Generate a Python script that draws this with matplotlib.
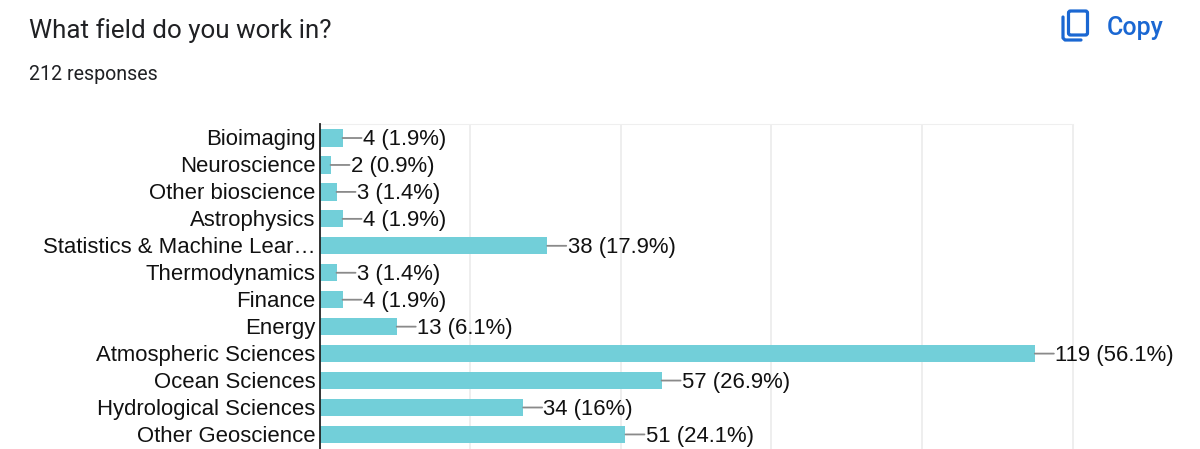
import matplotlib
matplotlib.use("Agg")
import matplotlib.pyplot as plt
from matplotlib.patches import FancyBboxPatch
from matplotlib.transforms import ScaledTranslation

categories = ["Bioimaging", "Neuroscience", "Other bioscience", "Astrophysics",
              "Statistics & Machine Lear…", "Thermodynamics", "Finance", "Energy",
              "Atmospheric Sciences", "Ocean Sciences", "Hydrological Sciences", "Other Geoscience"]
counts = [4, 2, 3, 4, 38, 3, 4, 13, 119, 57, 34, 51]
percents = ["1.9", "0.9", "1.4", "1.9", "17.9", "1.4", "1.9", "6.1", "56.1", "26.9", "16", "24.1"]
x_ticks = [25, 50, 75, 100, 125]

W, H = 1200, 449
fig = plt.figure(figsize=(W / 100, H / 100), dpi=100, facecolor="white")

bg = fig.add_axes([0, 0, 1, 1])
bg.set_xlim(0, W)
bg.set_ylim(H, 0)
bg.axis("off")
bg.text(29, 31, "What field do you work in?", family="Roboto", fontsize=18.75,
        color="#202124", va="center", ha="left")
bg.text(29, 74, "212 responses", family="Roboto", fontsize=14.1,
        color="#202124", va="center", ha="left")
blue = "#1a67d2"
bg.text(1107, 28, "Copy", family="Roboto", fontsize=18, fontweight="medium",
        color=blue, va="center", ha="left")
bg.add_patch(FancyBboxPatch((1068.5, 11), 19, 24, boxstyle="round,pad=0,rounding_size=2",
                            fill=False, ec=blue, lw=2.3))
bg.plot([1063, 1063, 1065, 1081], [17, 38, 40, 40], color=blue, lw=2.3, solid_capstyle="round")

left, right, top, bottom = 319.5, 1200, 124, 449
rect = [left / W, 1 - bottom / H, (right - left) / W, (bottom - top) / H]
ylim = (11.54, -0.52)

# gridline layer
gx = fig.add_axes(rect)
gx.set_facecolor("none")
gx.set_xlim(0, (right - left) / 6.026)
gx.set_ylim(*ylim)
gx.set_xticks(x_ticks)
gx.set_yticks([])
gx.tick_params(axis="x", length=0, labelbottom=False)
gx.grid(axis="x", color="#ebebeb", lw=1.2)
for s in ["right", "bottom", "left"]:
    gx.spines[s].set_visible(False)
gx.spines["top"].set_color("#efefef")
gx.spines["top"].set_bounds(0, 125)

# bar layer
ax = fig.add_axes(rect)
ax.set_facecolor("none")
ax.set_xlim(0.17, 0.17 + (right - left) / 6.02)
ax.set_ylim(*ylim)
ypos = list(range(len(categories)))

ax.barh(ypos, counts, height=0.64, color="#72cfd9", zorder=3)
for y, c, p in zip(ypos, counts, percents):
    ax.annotate("", xy=(c, y), xytext=(19, 0), textcoords="offset pixels",
                arrowprops=dict(arrowstyle="-", color="#8a8a8a", lw=1.3, shrinkA=0, shrinkB=0),
                zorder=4)
    ax.annotate(f"{c} ({p}%)", xy=(c, y), xytext=(20.3, 0.7), textcoords="offset pixels",
                family="Liberation Sans", fontsize=15.9, color="#111111",
                va="center_baseline", ha="left", zorder=5)

ax.set_yticks(ypos)
ax.set_yticklabels(categories, family="Liberation Sans", fontsize=15.9, color="#111111")
ax.tick_params(axis="y", length=0, pad=2.9)
shift = ScaledTranslation(0, 0.8 / 100, fig.dpi_scale_trans)
for lab in ax.get_yticklabels():
    lab.set_transform(lab.get_transform() + shift)
ax.set_xticks([])
for s in ["right", "bottom", "top"]:
    ax.spines[s].set_visible(False)
ax.spines["left"].set_color("#222222")
ax.spines["left"].set_linewidth(1.3)
ax.spines["left"].set_zorder(6)

fig.savefig("out.png", dpi=100)
